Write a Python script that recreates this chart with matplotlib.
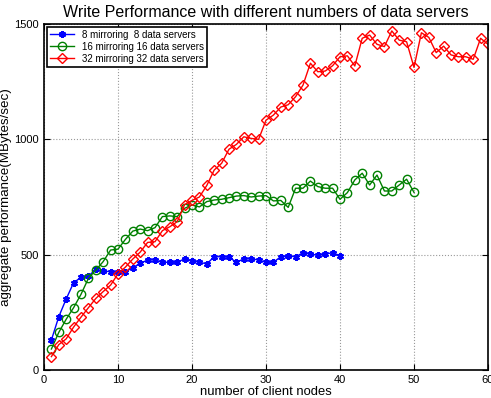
import numpy as np
import matplotlib
matplotlib.use("Agg")
import matplotlib.pyplot as plt

plt.rcParams['font.family'] = ['Liberation Sans', 'DejaVu Sans']

# MBytes/sec per client-node count
blue_y = [130, 231, 308, 378, 402, 407, 436, 429, 426, 423,
          426, 444, 462, 477, 477, 467, 467, 467, 482, 474,
          467, 460, 491, 491, 488, 468, 481, 482, 477, 467,
          467, 491, 494, 491, 508, 503, 497, 503, 508, 496]
green_y = [91, 163, 220, 270, 328, 397, 433, 470, 520, 524,
           566, 602, 611, 604, 617, 665, 668, 665, 701, 715,
           707, 730, 737, 740, 747, 754, 756, 750, 754, 756,
           733, 735, 705, 788, 788, 819, 795, 788, 788, 740,
           769, 824, 853, 802, 845, 776, 776, 802, 827, 770]
red_y = [58, 110, 135, 186, 229, 270, 310, 340, 368, 417,
         446, 481, 511, 553, 556, 604, 621, 643, 717, 735,
         750, 800, 867, 896, 957, 978, 1011, 1004, 1000, 1083,
         1105, 1140, 1150, 1185, 1235, 1330, 1293, 1296, 1319, 1358,
         1362, 1318, 1438, 1452, 1412, 1402, 1470, 1430, 1423, 1312,
         1462, 1442, 1376, 1404, 1366, 1358, 1358, 1347, 1438, 1412]

labels = ['8 mirroring  8 data servers',
          '16 mirroring 16 data servers',
          '32 mirroring 32 data servers']

fig = plt.figure(figsize=(4.91, 3.98), dpi=100)
ax = fig.add_axes([0.0896, 0.0704, 0.9043, 0.8693])

# matlab-style asterisk for the blue series
ax.plot(np.arange(1, len(blue_y) + 1), blue_y, color='blue', marker=(6, 2, 0),
        markersize=5, markeredgewidth=1.5, linewidth=1, label=labels[0])
ax.plot(np.arange(1, len(green_y) + 1), green_y, color='green', marker='o',
        markersize=6, markerfacecolor='none', linewidth=1, label=labels[1])
ax.plot(np.arange(1, len(red_y) + 1), red_y, color='red', marker='D',
        markersize=5, markerfacecolor='none', linewidth=1, label=labels[2])

ax.set_xlim(0, 60)
ax.set_ylim(0, 1500)
ax.set_xticks([0, 10, 20, 30, 40, 50, 60])
ax.set_yticks([0, 500, 1000, 1500])
ax.tick_params(direction='in', labelsize=8, length=4, top=True, right=True)
ax.grid(True, linestyle=':', color='#999999', linewidth=0.8)
for s in ax.spines.values():
    s.set_linewidth(1.2)

ax.set_xlabel('number of client nodes', fontsize=9.4, labelpad=1)
ax.set_ylabel('aggregate performance(MBytes/sec)', fontsize=9.6, labelpad=2)
ax.set_title('Write Performance with different numbers of data servers',
             fontsize=11.5, pad=5)

leg = ax.legend(loc='upper left', fontsize=7, fancybox=False, framealpha=1,
                edgecolor='black', borderpad=0.3, labelspacing=0.2,
                handlelength=2.5, borderaxespad=0.3)
leg.get_frame().set_linewidth(1.2)

fig.savefig('out.png', dpi=100)
